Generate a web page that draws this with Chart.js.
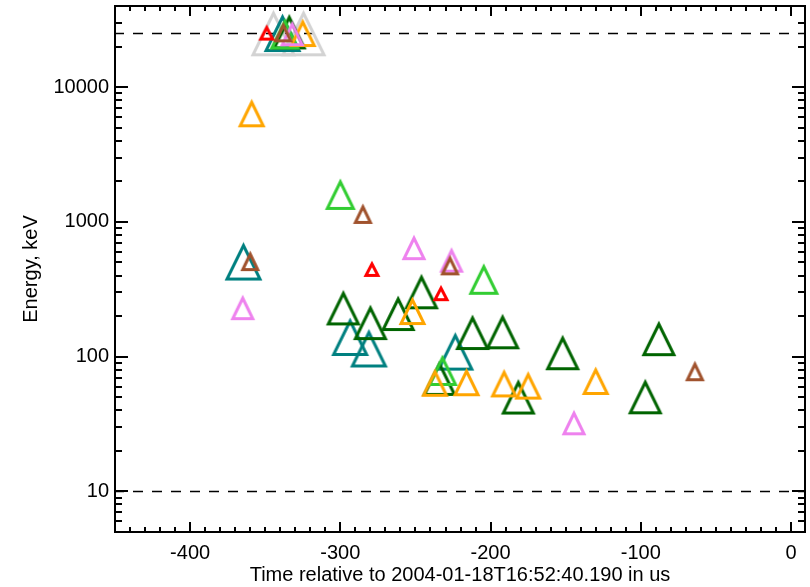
<!DOCTYPE html>
<html>
<head>
<meta charset="utf-8">
<title>Energy vs time</title>
<script src="https://cdn.jsdelivr.net/npm/chart.js@4"></script>
<style>
  html, body { margin: 0; padding: 0; background: #fff; }
  #wrap { width: 810px; height: 587px; }
</style>
</head>
<body>
<div id="wrap"><canvas id="energyChart" width="810" height="587"></canvas></div>
<script>
// time (us) and energy (keV) of each event, one pair of arrays per detector colour
const redTime = [-349, -279, -233];
const redEnergy = [25400, 448, 296];

const brownTime = [-338, -360, -285, -227, -64];
const brownEnergy = [25500, 512, 1146, 476, 78];

const violetTime = [-332, -365, -251, -226, -144.5];
const violetEnergy = [24900, 231, 644, 520, 32.3];

const orangeTime = [-325, -359, -252, -237, -216, -191, -175, -130];
const orangeEnergy = [25200, 6400, 218, 64, 64.6, 63.3, 61, 66];

const greenTime = [-337, -300, -204.5, -232];
const greenEnergy = [24800, 1600, 375, 79];

const darkGreenTime = [-334, -298, -280, -261.5, -246, -234, -212, -192, -181.5, -152, -97, -88];
const darkGreenEnergy = [25700, 230, 179, 209, 303, 69, 151, 153, 50.2, 107, 50.4, 136];

const tealTime = [-338.5, -364.5, -293.5, -281, -223.5];
const tealEnergy = [25200, 508, 140, 115, 109];

const greyTime = [-344.5, -324.5];
const greyEnergy = [25100, 25100];

const timeRange = [-450, 9.3];
const energyRange = [5, 40000];
const refLevels = [10, 25000];

const xTicks = [-400, -300, -200, -100, 0];
const yTicks = [10, 100, 1000, 10000];

const FONT = '"Liberation Sans", Arial, Helvetica, sans-serif';
Chart.defaults.font.family = FONT;
Chart.defaults.color = '#000';

// open triangle sprite used as point style
const makeTriangle = (color, size) => {
  const lw = 3, pad = 4;
  const w = size, h = Math.round(size * 1.03);
  const c = document.createElement('canvas');
  c.width = w + 2 * pad;
  c.height = h + 2 * pad;
  const ctx = c.getContext('2d');
  ctx.strokeStyle = color;
  ctx.lineWidth = lw;
  ctx.lineJoin = 'miter';
  ctx.beginPath();
  ctx.moveTo(pad + w / 2, pad + 3);
  ctx.lineTo(pad + w - 2, pad + h - lw / 2);
  ctx.lineTo(pad + 2, pad + h - lw / 2);
  ctx.closePath();
  ctx.stroke();
  return c;
};

const toPoints = (xs, ys) => xs.map((x, i) => ({ x: x, y: ys[i] }));

const series = (label, xs, ys, color, size) => ({
  type: 'scatter',
  label: label,
  data: toPoints(xs, ys),
  pointStyle: makeTriangle(color, size),
  pointRadius: 10,
  borderColor: color
});

const refLine = (level) => ({
  type: 'line',
  label: 'ref ' + level,
  data: timeRange.map(t => ({ x: t, y: level })),
  borderColor: '#000',
  borderWidth: 1.5,
  borderDash: [10, 9],
  borderDashOffset: 1,
  pointRadius: 0,
  showLine: true,
  fill: false
});

// ticks drawn inward on all four sides, plus the box
const frameTicks = {
  id: 'frameTicks',
  afterDatasetsDraw(chart) {
    const { ctx, chartArea: a, scales: { x, y } } = chart;
    ctx.save();
    ctx.strokeStyle = '#000';
    ctx.lineWidth = 2;
    ctx.beginPath();
    for (let t = -450; t <= 0; t += 10) {
      const px = Math.round(x.getPixelForValue(t));
      const len = t % 100 === 0 ? 10 : 5;
      ctx.moveTo(px, a.bottom);
      ctx.lineTo(px, a.bottom - len);
      ctx.moveTo(px, a.top);
      ctx.lineTo(px, a.top + len);
    }
    for (let d = 1; d <= 10000; d *= 10) {
      for (let m = 1; m <= 9; m++) {
        const v = d * m;
        if (v < energyRange[0] || v > energyRange[1]) continue;
        const py = Math.round(y.getPixelForValue(v));
        const len = m === 1 ? 13 : 7;
        ctx.moveTo(a.left, py);
        ctx.lineTo(a.left + len, py);
        ctx.moveTo(a.right, py);
        ctx.lineTo(a.right - len, py);
      }
    }
    ctx.stroke();
    ctx.strokeRect(a.left, a.top, a.right - a.left, a.bottom - a.top);
    ctx.restore();
  }
};

new Chart(document.getElementById('energyChart'), {
  data: {
    datasets: [
      series('red', redTime, redEnergy, '#ff0000', 16),
      series('brown', brownTime, brownEnergy, '#a0522d', 19),
      series('violet', violetTime, violetEnergy, '#ee82ee', 24),
      series('orange', orangeTime, orangeEnergy, '#ffa500', 27),
      series('green', greenTime, greenEnergy, '#32cd32', 30),
      series('dark green', darkGreenTime, darkGreenEnergy, '#006400', 34),
      series('teal', tealTime, tealEnergy, '#008080', 37),
      series('grey', greyTime, greyEnergy, '#d3d3d3', 45),
      refLine(refLevels[0]),
      refLine(refLevels[1])
    ]
  },
  options: {
    responsive: false,
    animation: false,
    devicePixelRatio: 1,
    events: [],
    layout: {
      autoPadding: false,
      padding: { left: 0, right: 5, top: 6, bottom: 0 }
    },
    plugins: {
      legend: { display: false },
      tooltip: { enabled: false }
    },
    scales: {
      x: {
        type: 'linear',
        position: 'bottom',
        min: timeRange[0],
        max: timeRange[1],
        grid: { display: false, drawTicks: false },
        border: { display: false },
        afterBuildTicks: s => { s.ticks = xTicks.map(v => ({ value: v })); },
        afterFit: s => {
          s.height = 55;
          s.paddingLeft = 0;
          s.paddingRight = 0;
        },
        ticks: {
          font: { size: 20 },
          color: '#000',
          padding: 9,
          maxRotation: 0,
          autoSkip: false,
          callback: v => String(v)
        },
        title: {
          display: true,
          text: 'Time relative to 2004-01-18T16:52:40.190 in us',
          font: { size: 20, lineHeight: 1.2 },
          color: '#000',
          padding: { top: 0, bottom: 0 }
        }
      },
      y: {
        type: 'logarithmic',
        position: 'left',
        min: energyRange[0],
        max: energyRange[1],
        grid: { display: false, drawTicks: false },
        border: { display: false },
        afterBuildTicks: s => { s.ticks = yTicks.map(v => ({ value: v })); },
        afterFit: s => {
          s.width = 115;
          s.paddingTop = 0;
          s.paddingBottom = 0;
        },
        ticks: {
          font: { size: 20 },
          color: '#000',
          padding: 6,
          autoSkip: false,
          callback: v => String(v)
        },
        title: {
          display: true,
          text: 'Energy, keV',
          font: { size: 20, lineHeight: 1.2 },
          color: '#000',
          padding: { top: 19, bottom: 0 }
        }
      }
    }
  },
  plugins: [frameTicks]
});
</script>
</body>
</html>
